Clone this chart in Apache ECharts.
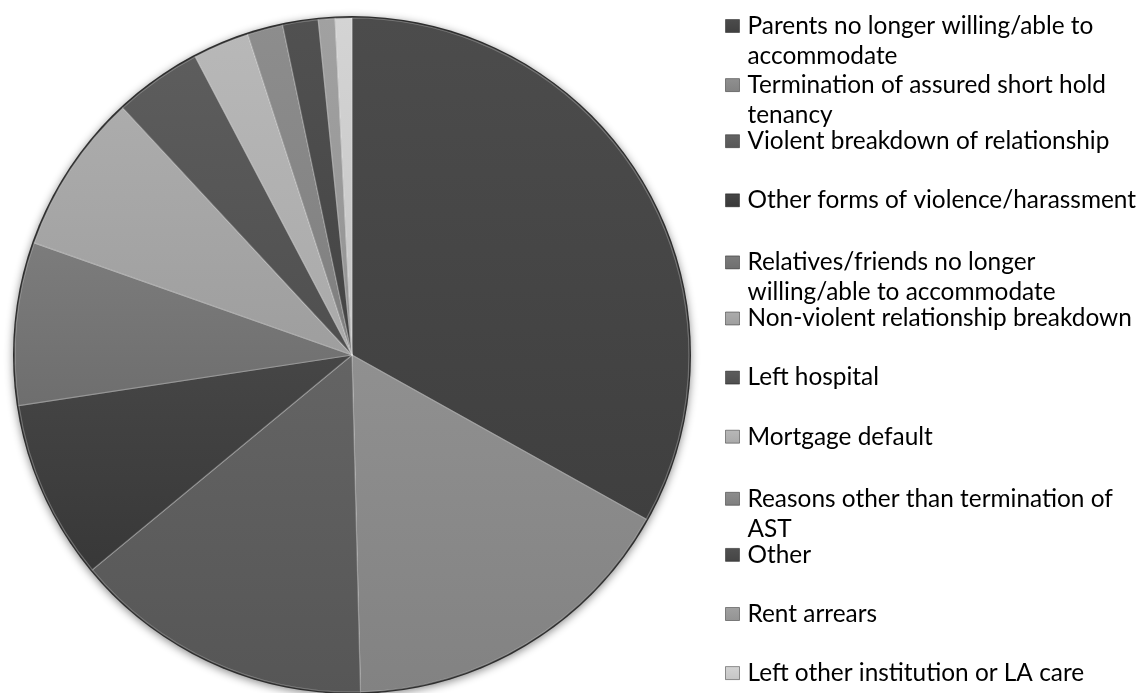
<!DOCTYPE html>
<html>
<head>
<meta charset="utf-8">
<title>Reasons for homelessness</title>
<script src="https://cdn.jsdelivr.net/npm/echarts@6/dist/echarts.min.js"></script>
<style>
  html, body { margin: 0; padding: 0; background: #ffffff; }
  #chart { width: 1148px; height: 693px; }
</style>
</head>
<body>
<div id="chart"></div>
<script>
// Reasons, in the order they are listed and drawn (clockwise from 12 o'clock)
const reasons = [
  'Parents no longer willing/able to\naccommodate',
  'Termination of assured short hold\ntenancy',
  'Violent breakdown of relationship',
  'Other forms of violence/harassment',
  'Relatives/friends no longer\nwilling/able to accommodate',
  'Non-violent relationship breakdown',
  'Left hospital',
  'Mortgage default',
  'Reasons other than termination of\nAST',
  'Other',
  'Rent arrears',
  'Left other institution or LA care'
];

// Share of cases (%)
const shares = [33.1, 16.5, 14.4, 8.6, 7.8, 7.7, 4.2, 2.7, 1.7, 1.7, 0.8, 0.8];

// Grey shade of each slice
const shades = ['#434343', '#8a8a8a', '#5c5c5c', '#3c3c3c', '#757575', '#a8a8a8',
                '#545454', '#b4b4b4', '#878787', '#484848', '#9c9c9c', '#d2d2d2'];

const chart = echarts.init(document.getElementById('chart'), null, { renderer: 'canvas' });

const names = reasons.map(r => r.replace('\n', ' '));

function lighten(hex, amt) {
  const n = parseInt(hex.slice(1), 16);
  const ch = [(n >> 16) & 255, (n >> 8) & 255, n & 255].map(v => Math.min(255, Math.round(v + (255 - v) * amt)));
  return 'rgb(' + ch.join(',') + ')';
}
function darken(hex, amt) {
  const n = parseInt(hex.slice(1), 16);
  const ch = [(n >> 16) & 255, (n >> 8) & 255, n & 255].map(v => Math.round(v * (1 - amt)));
  return 'rgb(' + ch.join(',') + ')';
}

const pieData = names.map((name, i) => ({
  name: name,
  value: shares[i],
  itemStyle: {
    color: new echarts.graphic.LinearGradient(0, 0, 0, 1, [
      { offset: 0, color: lighten(shades[i], 0.05) },
      { offset: 1, color: darken(shades[i], 0.06) }
    ])
  }
}));

// One legend block per entry so that wrapped entries keep the same row pitch
const rowTop = 11;
const rowPitch = 59.1;
const legendFont = { fontFamily: 'Lato', fontSize: 24.4, color: '#000000' };
const legends = reasons.map((label, i) => {
  const parts = label.split('\n');
  const twoLines = parts.length > 1;
  return {
    orient: 'vertical',
    left: 725,
    top: rowTop + rowPitch * i,
    padding: 0,
    icon: 'rect',
    itemWidth: 14,
    itemHeight: 13,
    itemGap: 0,
    selectedMode: false,
    data: [names[i]],
    formatter: () => twoLines ? '{a|' + parts[0] + '}\n{b|' + parts[1] + '}' : '{c|' + parts[0] + '}',
    textStyle: Object.assign({
      padding: [0, 0, 0, 3],
      rich: {
        a: Object.assign({ lineHeight: 60, height: 30, verticalAlign: 'bottom' }, legendFont),
        b: Object.assign({ lineHeight: 30 }, legendFont),
        c: Object.assign({ lineHeight: 30 }, legendFont)
      }
    }, legendFont),
    itemStyle: { borderColor: 'rgba(0,0,0,0.4)', borderWidth: 1 }
  };
});

chart.setOption({
  backgroundColor: '#ffffff',
  animation: false,
  legend: legends,
  series: [
    {
      // disc underneath the slices, carrying the drop shadow and dark rim
      type: 'pie',
      silent: true,
      center: [352, 355],
      radius: [0, 339],
      label: { show: false },
      labelLine: { show: false },
      data: [{ value: 1, name: '__rim', itemStyle: { color: '#2e2e2e' } }],
      itemStyle: { shadowBlur: 8, shadowColor: 'rgba(0,0,0,0.45)', shadowOffsetY: 2 }
    },
    {
      type: 'pie',
      center: [352, 355],
      radius: [0, 337],
      startAngle: 90,
      clockwise: true,
      label: { show: false },
      labelLine: { show: false },
      emphasis: { disabled: true },
      itemStyle: { borderColor: 'rgba(255,255,255,0.28)', borderWidth: 1.2 },
      data: pieData
    }
  ]
});
</script>
</body>
</html>
